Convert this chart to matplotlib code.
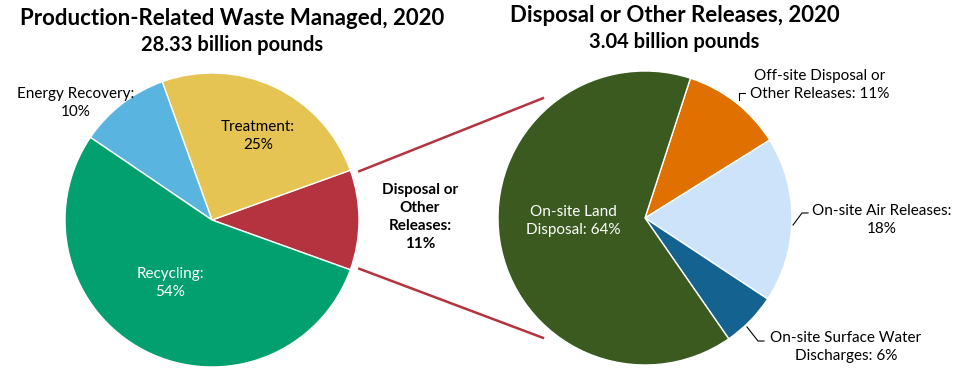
import numpy as np
import matplotlib.pyplot as plt

plt.rcParams['font.family'] = ['Lato', 'DejaVu Sans']

# Production-related waste managed, 2020 (percent of 28.33 billion pounds)
waste_names = ['Disposal or\nOther\nReleases:\n11%', 'Treatment:\n25%',
               'Energy Recovery:\n10%', 'Recycling:\n54%']
waste_share = [11, 25, 10, 54]
waste_colors = ['#B5333F', '#E5C453', '#5AB4E0', '#03A06F']

# Disposal or other releases, 2020 (percent of 3.04 billion pounds)
release_names = ['Off-site Disposal or\nOther Releases: 11%', 'On-site Air Releases:\n18%',
                 'On-site Surface Water\nDischarges: 6%', 'On-site Land\nDisposal: 64%']
release_share = [11, 18, 6, 64]
release_colors = ['#E07000', '#CCE3FA', '#14628F', '#3A5A1F']

W, H = 960, 388
fig = plt.figure(figsize=(9.6, 3.88), dpi=100)
ax = fig.add_axes([0, 0, 1, 1])
ax.set_xlim(0, W)
ax.set_ylim(0, H)
ax.set_aspect('equal')
ax.axis('off')

def Y(y):
    # pixel row (from top) -> axes y
    return H - y

R = 147
c1 = (212, Y(220))
c2 = (645, Y(218))

w1, _ = ax.pie(waste_share, colors=waste_colors, center=c1, radius=R,
               startangle=-waste_share[0] / 100 * 360 / 2, counterclock=True,
               wedgeprops=dict(edgecolor='white', linewidth=1))
w2, _ = ax.pie(release_share, colors=release_colors, center=c2, radius=R,
               startangle=72, counterclock=False,
               wedgeprops=dict(edgecolor='white', linewidth=1))
ax.set_xlim(0, W)
ax.set_ylim(0, H)

# connector lines from the disposal slice to the second pie
red = waste_colors[0]
for t1, t2 in [(w1[0].theta2 - 1.5, 130), (w1[0].theta1 + 1.5, -130)]:
    a, b = np.radians(t1), np.radians(t2)
    x0, y0 = c1[0] + (R + 7) * np.cos(a), c1[1] + (R + 7) * np.sin(a)
    x1, y1 = c2[0] + (R + 10) * np.cos(b), c2[1] + (R + 10) * np.sin(b)
    ax.plot([x0, x1], [y0, y1], color=red, lw=1.8, solid_capstyle='butt')

# titles
ax.text(232, Y(25), 'Production-Related Waste Managed, 2020', ha='center', va='baseline',
        fontsize=16, fontweight='bold')
ax.text(232, Y(51), '28.33 billion pounds', ha='center', va='baseline',
        fontsize=14.5, fontweight='bold')
ax.text(675, Y(22), 'Disposal or Other Releases, 2020', ha='center', va='baseline',
        fontsize=16, fontweight='bold')
ax.text(674, Y(48), '3.04 billion pounds', ha='center', va='baseline',
        fontsize=14.5, fontweight='bold')

fs = 11
ls = 1.33
# left pie labels
ax.text(258, Y(136), waste_names[1], ha='center', va='center', fontsize=fs, linespacing=ls)
ax.text(76, Y(103), waste_names[2], ha='center', va='center', fontsize=fs, linespacing=ls)
ax.text(170, Y(283), waste_names[3], ha='center', va='center', fontsize=fs, linespacing=ls,
        color='white')
ax.text(420, Y(217), waste_names[0], ha='center', va='center', fontsize=fs,
        fontweight='bold', linespacing=1.35)

# right pie labels
ax.text(573, Y(221), release_names[3], ha='center', va='center', fontsize=fs,
        linespacing=ls, color='white')
ax.text(820, Y(85), release_names[0], ha='center', va='center', fontsize=fs, linespacing=ls)
ax.text(882, Y(220), release_names[1], ha='center', va='center', fontsize=fs, linespacing=ls)
ax.text(846, Y(347), release_names[2], ha='center', va='center', fontsize=fs, linespacing=ls)

# leader lines
for pts in [[(739, 100), (739, 93), (745, 93)],
            [(793, 225), (802, 213), (808, 213)],
            [(747, 327), (758, 341), (764, 341)]]:
    xs = [p[0] for p in pts]
    ys = [Y(p[1]) for p in pts]
    ax.plot(xs, ys, color='black', lw=0.8)

fig.savefig('out.png', dpi=100)
